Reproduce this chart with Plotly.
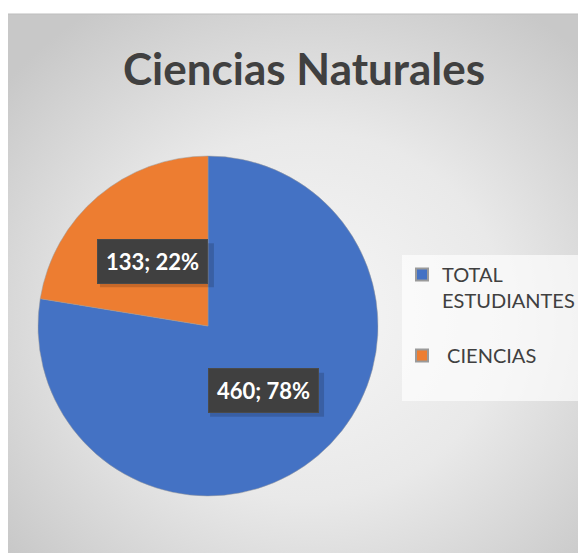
import base64
import math
import plotly.graph_objects as go

labels = ["TOTAL<br>ESTUDIANTES<br><span style='font-size:9px'> </span>",
          " CIENCIAS<br><span style='font-size:20px'> </span>"]
values = [460, 133]
colors = ["#4472C4", "#ED7D31"]
title = "Ciencias Naturales"

# the page body adds an 8px margin, so the figure is a bit smaller than the window
OFF = 8
W, H = 586 - OFF, 553 - OFF
# pie geometry in figure pixels
cx, cy, r = 208 - OFF, 326 - OFF, 170

# gray radial background like the Excel chart area
svg = """<svg xmlns='http://www.w3.org/2000/svg' width='578' height='540'>
<defs><radialGradient id='g' cx='52%' cy='56%' r='68%'>
<stop offset='0' stop-color='#f6f6f6'/><stop offset='0.5' stop-color='#e9e9e9'/>
<stop offset='1' stop-color='#c8c8c8'/></radialGradient></defs>
<rect width='578' height='540' fill='url(#g)'/></svg>"""
bg_src = "data:image/svg+xml;base64," + base64.b64encode(svg.encode()).decode()

fig = go.Figure()
fig.add_trace(go.Pie(
    labels=labels,
    values=values,
    sort=False,
    direction="clockwise",
    rotation=0,
    marker=dict(colors=colors, line=dict(color="#9a9a9a", width=0.5)),
    textinfo="none",
    hoverinfo="value+percent",
    domain=dict(x=[(cx - r) / W, (cx + r) / W], y=[(H - cy - r) / H, (H - cy + r) / H]),
))

shapes = [dict(type="line", xref="paper", yref="paper", x0=0, x1=1,
               y0=1 - (14 - OFF) / H, y1=1 - (14 - OFF) / H,
               line=dict(color="#bdbdbd", width=1))]

# data labels: value; percent, placed at half radius on each slice's mid-angle
total = sum(values)
cum = 0
for v in values:
    mid = (cum + v / 2) / total * 2 * math.pi
    cum += v
    px = cx + 0.5 * r * math.sin(mid)
    py = cy - 0.5 * r * math.cos(mid)
    pct = round(v / total * 100)
    txt = f"{v}; {pct}%"
    # soft shadow behind the label box
    bw, bh = len(txt) * 12.5 + 14, 44
    shapes.append(dict(type="rect", xref="paper", yref="paper", layer="above", line_width=0,
                       x0=(px - bw / 2 + 4) / W, x1=(px + bw / 2 + 4) / W,
                       y0=1 - (py + bh / 2 + 4) / H, y1=1 - (py - bh / 2 + 4) / H,
                       fillcolor="rgba(0,0,0,0.16)"))
    fig.add_annotation(x=px / W, y=1 - py / H, xref="paper", yref="paper",
                       xanchor="center", yanchor="middle",
                       text=f"<b>{txt}</b>", showarrow=False,
                       font=dict(size=22, color="white", family="Lato"),
                       bgcolor="#404040", bordercolor="#4a4a4a", borderwidth=1, borderpad=8)

fig.add_annotation(x=(304 - OFF) / W, y=1 - (68 - OFF) / H, xref="paper", yref="paper",
                   xanchor="center", yanchor="middle", text=f"<b>{title}</b>",
                   showarrow=False, font=dict(size=44, color="#404040", family="Lato"))

fig.update_layout(
    width=W, height=H,
    margin=dict(l=0, r=0, t=0, b=0),
    paper_bgcolor="white",
    showlegend=True,
    legend=dict(x=(402 - OFF) / W, y=1 - (255 - OFF) / H, xanchor="left", yanchor="top",
                bgcolor="rgba(255,255,255,0.65)", font=dict(size=20, color="#404040", family="Lato"),
                valign="top", itemsizing="constant"),
    images=[dict(source=bg_src, xref="paper", yref="paper", x=0, y=1 - (14 - OFF) / H,
                 sizex=1, sizey=1 - (14 - OFF) / H, sizing="stretch", layer="below",
                 xanchor="left", yanchor="top")],
    shapes=shapes,
)

fig.write_html("out.html")
